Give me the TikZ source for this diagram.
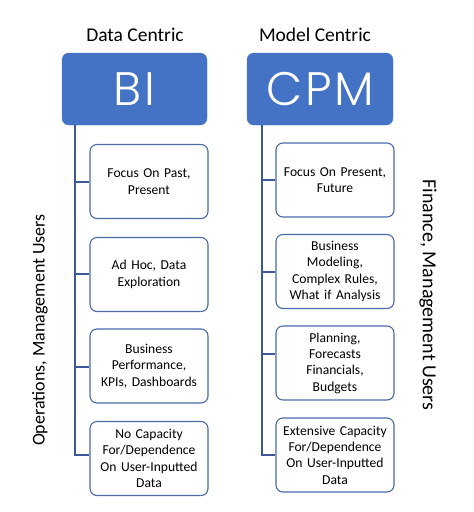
\documentclass[tikz,border=0pt]{standalone}
\usepackage{fontspec}
\setmainfont{Carlito}
\newfontfamily\headfont[LetterSpace=6]{Poppins Light}
\definecolor{hdr}{HTML}{4472C4}
\definecolor{edge}{HTML}{4A6AA8}
\definecolor{conn}{HTML}{3E5A96}
\begin{document}
\begin{tikzpicture}[x=1pt,y=-1pt,
  hdrbox/.style={fill=hdr,draw=hdr,rounded corners=7pt,text=white,inner sep=0pt,
    font=\headfont\fontsize{47}{50}\selectfont},
  itembox/.style={draw=edge,line width=1.1pt,rounded corners=7pt,fill=white,
    minimum width=118pt,minimum height=74pt,inner sep=2pt,align=center,text width=114pt,
    font=\fontsize{13.6}{16.3}\selectfont},
  title/.style={font=\fontsize{19.5}{22}\selectfont},
  conline/.style={draw=conn,line width=1.2pt}]
\useasboundingbox (0,0) rectangle (474,512);
% titles
\node[title] (t1) at (135,35) {Data Centric};
\node[title] (t2) at (315,35) {Model Centric};
% headers
\node[hdrbox,minimum width=145pt,minimum height=72pt] (bi) at (134.5,89) {BI};
\node[hdrbox,minimum width=146pt,minimum height=72pt] (cpm) at (320,89) {CPM};
% left column
\coordinate (ltop) at (75,125);
\node[itembox] (l1) at (149,181.5) {Focus On Past,\\Present};
\node[itembox] (l2) at (149,274.5) {Ad Hoc, Data\\Exploration};
\node[itembox] (l3) at (149,366) {Business\\Performance,\\KPIs, Dashboards};
\node[itembox] (l4) at (149,458.5) {No Capacity\\For/Dependence\\On User-Inputted\\Data};
\coordinate (lb4) at (75,455);
\draw[conline] (ltop) -- (lb4) -- (lb4 -| l4.west);
\draw[conline] (75,182) -- (75,182 -| l1.west);
\draw[conline] (75,274) -- (75,274 -| l2.west);
\draw[conline] (75,367) -- (75,367 -| l3.west);
% right column
\coordinate (rtop) at (262,125);
\node[itembox] (r1) at (335,180) {Focus On Present,\\Future};
\node[itembox] (r2) at (335,271.5) {Business\\Modeling,\\Complex Rules,\\What if Analysis};
\node[itembox] (r3) at (335,363) {Planning,\\Forecasts\\Financials,\\Budgets};
\node[itembox] (r4) at (335,455) {Extensive Capacity\\For/Dependence\\On User-Inputted\\Data};
\coordinate (rb4) at (262,455);
\draw[conline] (rtop) -- (rb4) -- (rb4 -| r4.west);
\draw[conline] (262,180) -- (262,180 -| r1.west);
\draw[conline] (262,272) -- (262,272 -| r2.west);
\draw[conline] (262,354) -- (262,354 -| r3.west);
% side labels
\node[font=\fontsize{18}{22}\selectfont,rotate=90] (sl) at (40,330) {Operations, Management Users};
\node[font=\fontsize{20}{22}\selectfont,rotate=-90] (sr) at (428,295) {Finance, Management Users};
\end{tikzpicture}
\end{document}
